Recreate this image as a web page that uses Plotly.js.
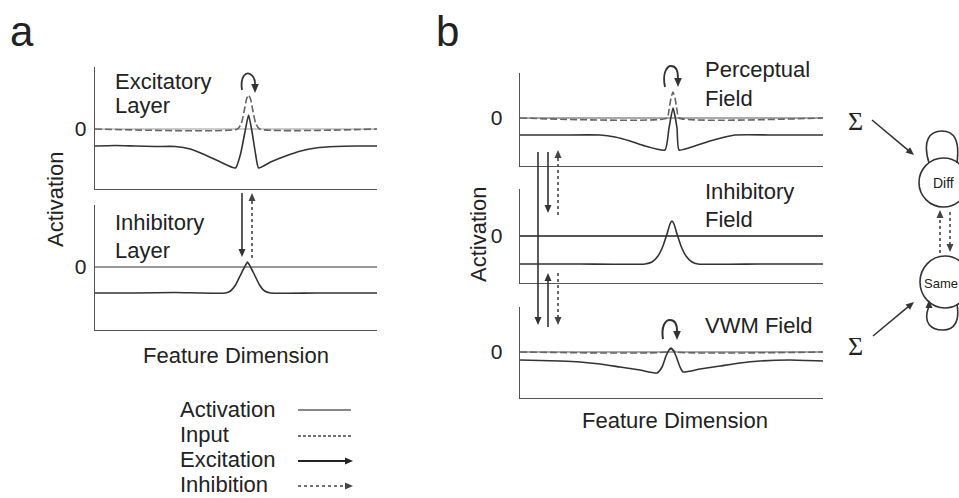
<!DOCTYPE html>
<html><head><meta charset="utf-8">
<script src="https://cdn.plot.ly/plotly-3.0.1.min.js"></script>
<style>html,body{margin:0;padding:0;background:#fff}#chart{width:959px;height:498px}</style>
</head><body><div id="chart"></div>
<script>
// ---------------- data (feature position, activation) ----------------
// Panel a – excitatory layer
const excX   = [0,20,40,60,80,95,110,125,140,145,150,153,156,160,163,175,190,205,220,240,260,281];
const excAct = [-17,-16.5,-17,-17.5,-17.5,-20,-26,-33,-39,-25,0,14,0,-25,-39,-33,-27,-22,-19,-17.5,-17,-17];
const excInX = [0,142,146,149,151,153,155,157,160,164,281];
const excIn  = [0,0,6,20,30,34,30,20,6,0,0];
// Panel a – inhibitory layer
const inhX   = [0,40,80,130,135,140,145,149,152,155,159,164,169,175,220,281];
const inhAct = [-26,-26,-25.5,-26,-24,-18,-8,0,5,0,-8,-18,-24,-26,-26,-26];
// Panel b – perceptual field
const percX   = [0,40,80,95,110,125,145,149,153,157,159,175,190,205,215,260,303];
const percAct = [-17,-17,-17,-19,-23,-28,-32,-10,10,-10,-32,-28,-23,-19,-17,-17,-17];
const percInX = [0,147,149,151,153,155,157,159,303];
const percIn  = [0,0,8,20,26,20,8,0,0];
// Panel b – inhibitory field
const inhFX   = [0,60,125,132,138,143,147,150,152,154,157,161,166,172,178,240,303];
const inhFAct = [-28,-28,-28,-26,-20,-10,2,12,15,12,2,-10,-20,-26,-28,-28,-28];
// Panel b – VWM field
const vwmX   = [0,40,60,80,100,120,137,142,146,149,151,153,156,160,163,180,200,220,240,270,303];
const vwmAct = [-8,-9,-10,-12,-15,-18,-21,-15,-4,2,4,2,-4,-15,-20,-17,-14,-11,-9,-8,-9];
const vwmInX = [0,146,151,156,303];
const vwmIn  = [0,0,3,0,0];
// text
const zeroTick = ['0'];
const legendLabels = ['Activation','Input','Excitation','Inhibition'];
const panelLabels = ['a','b'];

// ---------------- helpers ----------------
const W=959,H=498, F='Liberation Sans, Arial, sans-serif';
const fx=p=>p/W, fy=p=>1-p/H, P=(x,y)=>fx(x)+','+fy(y);
function seg(x0,y0,x1,y1,color,width,dash){return {type:'line',xref:'paper',yref:'paper',x0:fx(x0),y0:fy(y0),x1:fx(x1),y1:fy(y1),line:{color:color,width:width,dash:dash||'solid'},layer:'above'};}
function head(tx,ty,dx,dy,color,len,half){len=len||8;half=half||3.5;const n=Math.hypot(dx,dy);dx/=n;dy/=n;
  const bx=tx-dx*len,by=ty-dy*len,px=-dy,py=dx;
  return {type:'path',xref:'paper',yref:'paper',path:'M'+P(tx,ty)+' L'+P(bx+px*half,by+py*half)+' L'+P(bx-px*half,by-py*half)+' Z',fillcolor:color,line:{width:0},layer:'above'};}
function arrow(x0,y0,x1,y1,color,width,dash,len,half){len=len||8;const n=Math.hypot(x1-x0,y1-y0);const ex=x1-(x1-x0)/n*(len-1),ey=y1-(y1-y0)/n*(len-1);
  return [seg(x0,y0,ex,ey,color,width,dash),head(x1,y1,x1-x0,y1-y0,color,len,half)];}
function curve(d,color,width){return {type:'path',xref:'paper',yref:'paper',path:d,line:{color:color,width:width},layer:'above'};}
function ann(text,x,y,o){return Object.assign({text:text,x:fx(x),y:fy(y),xref:'paper',yref:'paper',showarrow:false,xanchor:'left',yanchor:'middle',font:{size:22,color:'#222',family:F}},o||{});}

// subplot pixel boxes
const A_L=95,A_R=377,B_L=520,B_R=823;
function xa(l,r,rng,anc){return {domain:[fx(l),fx(r)],range:rng,anchor:anc,showline:true,linecolor:'#555',linewidth:1.3,showticklabels:false,ticks:'',showgrid:false,zeroline:false,fixedrange:true};}
function ya(top,bot,rng,anc,zc,zw,stand){return {domain:[fy(bot),fy(top)],range:rng,anchor:anc,showline:true,linecolor:'#555',linewidth:1.3,tickvals:[0],ticktext:zeroTick,ticks:'',tickfont:{size:21,color:'#222',family:F},ticklabelstandoff:stand,showgrid:false,zeroline:true,zerolinecolor:zc,zerolinewidth:zw,fixedrange:true};}

const actLine={color:'#333',width:1.6,shape:'spline',smoothing:0.5};
const inLine={color:'#666',width:1.6,dash:'7px,3px',shape:'spline',smoothing:0.5};
const tr=(x,y,ax,ay,line)=>({x:x,y:y,xaxis:ax,yaxis:ay,mode:'lines',line:line,hoverinfo:'skip',showlegend:false});

const data=[
  tr(excInX,excIn,'x','y',inLine), tr(excX,excAct,'x','y',actLine),
  tr(inhX,inhAct,'x2','y2',actLine),
  tr(percInX,percIn,'x3','y3',inLine), tr(percX,percAct,'x3','y3',actLine),
  tr(inhFX,inhFAct,'x4','y4',actLine),
  tr(vwmInX,vwmIn,'x5','y5',inLine), tr(vwmX,vwmAct,'x5','y5',actLine)
];

const shapes=[].concat(
  // panel a self-excitation and coupling arrows
  [curve('M'+P(242,90)+' C'+P(240,76)+' '+P(246,72)+' '+P(250,74)+' C'+P(254,76)+' '+P(255,79)+' '+P(255,84),'#333',1.8), head(255,93,0,1,'#333',9,3.8)],
  arrow(242,193,242,257,'#333',1.6),
  arrow(252,258,252,193,'#444',1.6,'dot'),
  // panel b self-excitation
  [curve('M'+P(665,87)+' C'+P(662,73)+' '+P(667,66)+' '+P(671,66)+' C'+P(676,66)+' '+P(678,71)+' '+P(678,78),'#333',1.8), head(678,87,0,1,'#333',9,3.8)],
  [curve('M'+P(663,339)+' C'+P(661,327)+' '+P(665,320)+' '+P(670,320)+' C'+P(675,320)+' '+P(677,325)+' '+P(677,331),'#333',2), head(677,340,0,1,'#333',9,3.8)],
  // panel b field couplings
  arrow(538,152,538,325,'#333',1.6),
  arrow(548,152,548,213,'#333',1.6),
  arrow(558,215,558,150,'#444',1.6,'dot'),
  arrow(548,327,548,273,'#333',1.6),
  arrow(558,273,558,325,'#444',1.6,'dot'),
  // decision nodes
  [{type:'circle',xref:'paper',yref:'paper',x0:fx(919),x1:fx(968),y0:fy(207),y1:fy(158),line:{color:'#333',width:1.6},layer:'above'},
   {type:'circle',xref:'paper',yref:'paper',x0:fx(920),x1:fx(970),y0:fy(308),y1:fy(256),line:{color:'#333',width:1.6},layer:'above'},
   curve('M'+P(929,163)+' C'+P(922,140)+' '+P(930,131)+' '+P(942,131)+' C'+P(954,131)+' '+P(960,140)+' '+P(957,163),'#333',1.6),
   curve('M'+P(929,306)+' C'+P(922,324)+' '+P(932,330)+' '+P(943,330)+' C'+P(954,330)+' '+P(960,322)+' '+P(957,304),'#333',1.6),
   head(929,300,0,-1,'#333',8,3.5)],
  arrow(872,120,914,155,'#333',1.6),
  arrow(873,336,914,302,'#333',1.6),
  arrow(940,253,940,210,'#444',1.6,'dot'),
  arrow(950,212,950,252,'#444',1.6,'dot'),
  // legend samples
  [seg(298,410,351,410,'#888',2)],
  [seg(298,436,351,436,'#444',1.5,'3px,2px')],
  arrow(298,461,353,461,'#222',2),
  arrow(298,486,353,486,'#444',1.6,'dot')
);

const annotations=[
  ann(panelLabels[0],22,31,{xanchor:'center',font:{size:42,color:'#222',family:F}}),
  ann(panelLabels[1],447,31,{xanchor:'center',font:{size:42,color:'#222',family:F}}),
  ann('Excitatory',113,81), ann('Layer',113,106),
  ann('Inhibitory',113,222), ann('Layer',113,250),
  ann('Perceptual',703,70), ann('Field',703,98),
  ann('Inhibitory',703,191), ann('Field',703,220),
  ann('VWM Field',703,325),
  ann('Activation',55,200,{xanchor:'center',textangle:-90}),
  ann('Activation',478,235,{xanchor:'center',textangle:-90}),
  ann('Feature Dimension',236,355,{xanchor:'center'}),
  ann('Feature Dimension',675,420,{xanchor:'center'}),
  ann('\u03A3',855,121,{xanchor:'center',font:{size:26,color:'#222',family:'Liberation Serif, serif'}}),
  ann('\u03A3',855,346,{xanchor:'center',font:{size:26,color:'#222',family:'Liberation Serif, serif'}}),
  ann('Diff',943,183,{xanchor:'center',font:{size:14,color:'#222',family:F}}),
  ann('Same',941,283,{xanchor:'center',font:{size:13,color:'#222',family:F}})
];
legendLabels.forEach((t,i)=>annotations.push(ann(t,178,[409,434,459,484][i])));

const layout={
  width:W,height:H,margin:{l:0,r:0,t:0,b:0},paper_bgcolor:'#fff',plot_bgcolor:'rgba(0,0,0,0)',showlegend:false,
  xaxis: xa(A_L,A_R,[0,281],'y'),  yaxis: ya(67,189,[-60,62],'x','#ccc',1.3,3),
  xaxis2:xa(A_L,A_R,[0,281],'y2'), yaxis2:ya(205,330,[-63,62],'x2','#999',1.8,3),
  xaxis3:xa(B_L,B_R,[0,303],'y3'), yaxis3:ya(73,166,[-48,45],'x3','#aaa',1.3,12),
  xaxis4:xa(B_L,B_R,[0,303],'y4'), yaxis4:ya(189,283,[-47,47],'x4','#555',1.3,12),
  xaxis5:xa(B_L,B_R,[0,303],'y5'), yaxis5:ya(307,398,[-46,45],'x5','#aaa',1.3,12),
  shapes:shapes, annotations:annotations
};
Plotly.newPlot('chart',data,layout,{staticPlot:true,displayModeBar:false});
</script></body></html>
